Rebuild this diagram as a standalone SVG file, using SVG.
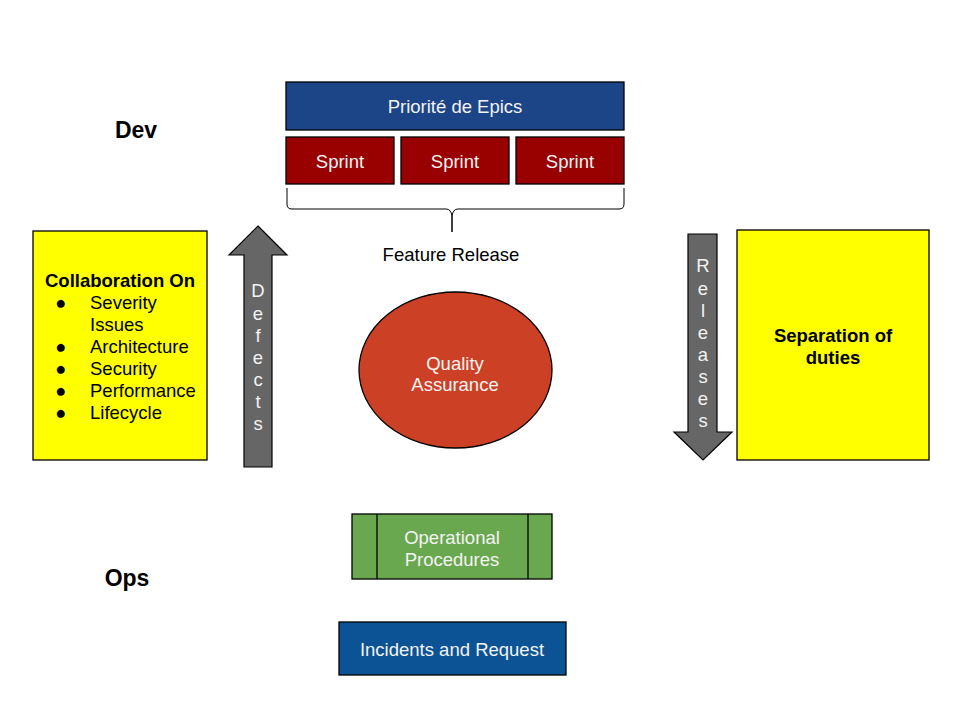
<svg xmlns="http://www.w3.org/2000/svg" width="960" height="720" viewBox="0 0 960 720">
<style>
text{font-family:"Liberation Sans",Arial,sans-serif;}
.box{stroke:#000;stroke-width:1.3;}
.lt{fill:#f3f3f3;font-size:18.5px;text-anchor:middle;dominant-baseline:central;}
.dk{fill:#000;font-size:18.5px;dominant-baseline:central;}
.bold{font-weight:bold;}
.big{font-size:23px;text-anchor:middle;}
.arr{fill:#666666;stroke:#000;stroke-width:1.2;}
.vl{fill:#f3f3f3;font-size:18.5px;text-anchor:middle;dominant-baseline:central;}
</style>
<rect width="960" height="720" fill="#fff"/>
<g id="dev"><text x="136" y="130" class="dk bold big">Dev</text></g>
<g id="ops"><text x="127" y="578" class="dk bold big">Ops</text></g>
<g id="epics"><rect x="286" y="82" width="338" height="48" fill="#1c4587" class="box"/><text x="455" y="106" class="lt">Priorité de Epics</text></g>
<g id="sprint1"><rect x="286" y="137" width="108" height="47" fill="#990000" class="box"/><text x="340" y="161" class="lt">Sprint</text></g>
<g id="sprint2"><rect x="401" y="137" width="108" height="47" fill="#990000" class="box"/><text x="455" y="161" class="lt">Sprint</text></g>
<g id="sprint3"><rect x="516" y="137" width="108" height="47" fill="#990000" class="box"/><text x="570" y="161" class="lt">Sprint</text></g>
<g id="brace"><path d="M287,188 L287,204 Q287,209 292,209 L446,209 Q451,209 452,216 L452,232 M452,232 L452,216 Q453,209 458,209 L619,209 Q624,209 624,204 L624,188" fill="none" stroke="#000" stroke-width="1"/></g>
<g id="feature"><text x="451" y="254" class="dk" text-anchor="middle">Feature Release</text></g>
<g id="collab">
<rect x="33" y="231" width="174" height="229" fill="#ffff00" class="box"/>
<text x="120" y="280" class="dk bold" text-anchor="middle">Collaboration On</text>
<text x="55" y="302" class="dk">●</text><text x="90" y="302" class="dk">Severity</text>
<text x="90" y="324" class="dk">Issues</text>
<text x="55" y="346" class="dk">●</text><text x="90" y="346" class="dk">Architecture</text>
<text x="55" y="368" class="dk">●</text><text x="90" y="368" class="dk">Security</text>
<text x="55" y="390" class="dk">●</text><text x="90" y="390" class="dk">Performance</text>
<text x="55" y="412" class="dk">●</text><text x="90" y="412" class="dk">Lifecycle</text>
</g>
<g id="defects">
<polygon points="258,226 287,255 272,255 272,467 244,467 244,255 229,255" class="arr"/>
<text x="258" y="290" class="vl">D</text><text x="258" y="313" class="vl">e</text><text x="258" y="335" class="vl">f</text><text x="258" y="357" class="vl">e</text><text x="258" y="379" class="vl">c</text><text x="258" y="401" class="vl">t</text><text x="258" y="423" class="vl">s</text>
</g>
<g id="releases">
<polygon points="688,234 717,234 717,432 732,432 703,460 674,432 688,432" class="arr"/>
<text x="703" y="265" class="vl">R</text><text x="703" y="288" class="vl">e</text><text x="703" y="310" class="vl">l</text><text x="703" y="332" class="vl">e</text><text x="703" y="354" class="vl">a</text><text x="703" y="376" class="vl">s</text><text x="703" y="398" class="vl">e</text><text x="703" y="420" class="vl">s</text>
</g>
<g id="separation">
<rect x="737" y="230" width="192" height="230" fill="#ffff00" class="box"/>
<text x="833" y="335" class="dk bold" text-anchor="middle">Separation of</text>
<text x="833" y="357" class="dk bold" text-anchor="middle">duties</text>
</g>
<g id="qa">
<ellipse cx="455.5" cy="370" rx="96.5" ry="78" fill="#cc4125" class="box"/>
<text x="455" y="363" class="lt">Quality</text><text x="455" y="384" class="lt">Assurance</text>
</g>
<g id="opproc">
<rect x="352" y="514" width="200" height="65" fill="#6aa84f" class="box"/>
<line x1="377" y1="514" x2="377" y2="579" stroke="#000" stroke-width="1.3"/>
<line x1="528" y1="514" x2="528" y2="579" stroke="#000" stroke-width="1.3"/>
<text x="452" y="537" class="lt">Operational</text><text x="452" y="559" class="lt">Procedures</text>
</g>
<g id="incidents">
<rect x="339" y="622" width="227" height="53" fill="#0b5394" class="box"/>
<text x="452" y="649" class="lt">Incidents and Request</text>
</g>
<g id="connectors"></g>
</svg>
